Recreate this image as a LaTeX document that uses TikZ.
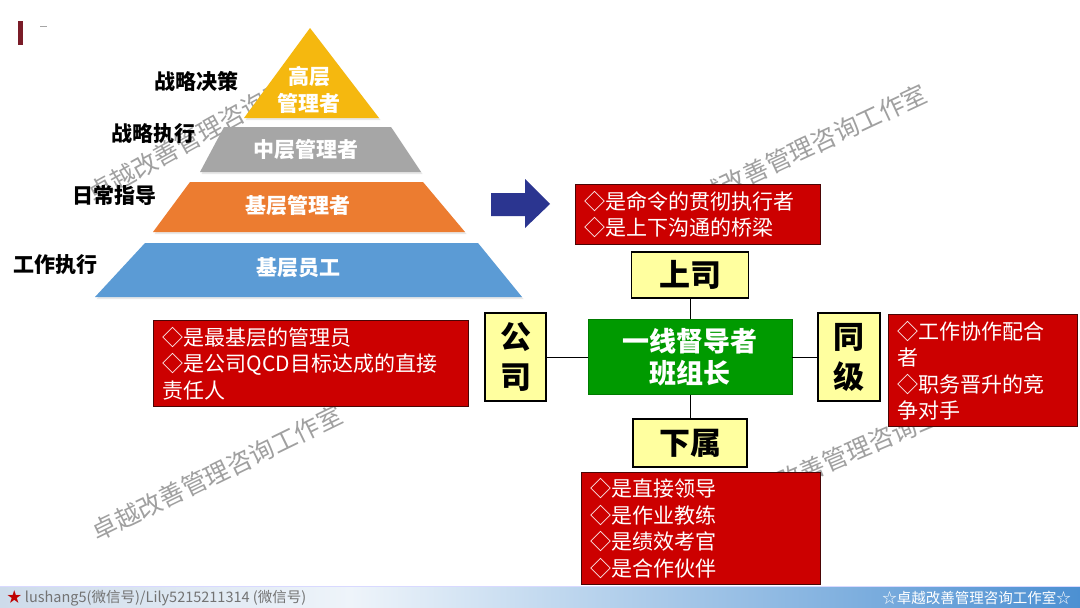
\documentclass[tikz,border=0pt]{standalone}
\usepackage{fontspec}
\setmainfont{Noto Sans CJK SC}
\usetikzlibrary{shadows}
\definecolor{pyryellow}{HTML}{F5B80F}
\definecolor{pyrgray}{HTML}{A6A6A6}
\definecolor{pyrorange}{HTML}{EC7C30}
\definecolor{pyrblue}{HTML}{5B9BD5}
\definecolor{navy}{HTML}{2B3590}
\definecolor{boxred}{HTML}{CC0000}
\definecolor{redborder}{HTML}{4A0505}
\definecolor{boxyellow}{HTML}{FFFF9F}
\definecolor{boxgreen}{HTML}{009A00}
\definecolor{wmgray}{HTML}{A0A0A0}
\definecolor{barred}{HTML}{7A1C28}
\definecolor{footA}{RGB}{205,219,234}
\definecolor{footB}{RGB}{238,244,250}
\definecolor{footC}{RGB}{76,144,210}
\begin{document}
\begin{tikzpicture}[x=1pt,y=-1pt,
  layer/.style={draw=none, drop shadow={opacity=0.18, shadow xshift=1.5pt, shadow yshift=-2pt}},
  pyrtext/.style={text=white, font=\bfseries\fontsize{21}{27}\selectfont, align=center, inner sep=0pt},
  sidelabel/.style={text=black, font=\bfseries\fontsize{21}{24}\selectfont, inner sep=0pt},
  redbox/.style={draw=redborder, line width=1.3pt, fill=boxred, text=white,
    font=\fontsize{21}{26.5}\selectfont, align=left, inner xsep=9pt, inner ysep=0pt, anchor=north west},
  ybox/.style={draw=black, line width=1.2pt, fill=boxyellow, text=black,
    font=\bfseries\fontsize{31}{40}\selectfont, align=center, inner sep=0pt},
  gbox/.style={draw=boxgreen!80!black, line width=0.6pt, fill=boxgreen, text=white,
    font=\bfseries\fontsize{27}{32}\selectfont, align=center, inner sep=0pt},
  wm/.style={font=\fontsize{25}{30}\selectfont, inner sep=0pt, text=wmgray},
  link/.style={draw=black, line width=1pt}
]
\useasboundingbox (0,0) rectangle (1080,608);
\fill[white] (0,0) rectangle (1080,608);

% top-left mark
\fill[barred] (18,21) rectangle (23,45);
\draw[gray!70, line width=1pt] (40,26) -- (47,26);

% watermarks
\foreach \cx/\cy/\ang [count=\i] in {210/129/29, 801/150/25, 217/473/26, 858/449/23}{
  \node[wm, rotate=\ang] (wmtext\i) at (\cx,\cy) {卓越改善管理咨询工作室};
}

% pyramid
\path[layer, fill=pyryellow] (310,28) -- (379,118) -- (244,118) -- cycle;
\path[layer, fill=pyrgray] (224,127) -- (391,127) -- (421,172) -- (200,172) -- cycle;
\path[layer, fill=pyrorange] (190,182) -- (423,182) -- (465,232) -- (153,232) -- cycle;
\path[layer, fill=pyrblue] (145,243) -- (478,243) -- (522,297) -- (95,297) -- cycle;

\node[pyrtext] (top) at (309,90) {高层\\[0pt]管理者};
\node[pyrtext] (mid) at (306,150) {中层管理者};
\node[pyrtext] (base) at (298,206) {基层管理者};
\node[pyrtext] (staff) at (298,268) {基层员工};

% side labels
\node[sidelabel] (l1) at (196,81) {战略决策};
\node[sidelabel] (l2) at (153,134) {战略执行};
\node[sidelabel] (l3) at (114,196) {日常指导};
\node[sidelabel] (l4) at (55,265) {工作执行};

% big arrow
\fill[navy] (491,193) -- (525,193) -- (525,179) -- (550,204) -- (525,228) -- (525,216) -- (491,216) -- cycle;

% red boxes
\node[redbox, text width=227pt, minimum height=60pt] (rtop) at (575,184)
  {◇是命令的贯彻执行者\\◇是上下沟通的桥梁};
\node[redbox, text width=297pt, minimum height=86pt] (rleft) at (153,320)
  {◇是最基层的管理员\\◇是公司QCD目标达成的直接\\责任人};
\node[redbox, text width=171pt, minimum height=112pt] (rright) at (888,314)
  {◇工作协作配合\\者\\◇职务晋升的竞\\争对手};
\node[redbox, text width=221pt, minimum height=112pt] (rbottom) at (581,472)
  {◇是直接领导\\◇是作业教练\\◇是绩效考官\\◇是合作伙伴};

% center diagram
\node[gbox, minimum width=204pt, minimum height=75pt] (center) at (690,357) {一线督导者\\班组长};
\node[ybox, minimum width=117pt, minimum height=46pt] (boss) at (690,275) {上司};
\node[ybox, minimum width=114pt, minimum height=48pt] (sub) at (690,443) {下属};
\node[ybox, minimum width=61pt, minimum height=88pt] (company) at (515.5,357) {公\\司};
\node[ybox, minimum width=62pt, minimum height=88pt] (peer) at (849,357) {同\\级};

\draw[link] (boss) -- (center);
\draw[link] (center) -- (sub);
\draw[link] (company) -- (center);
\draw[link] (center) -- (peer);

% footer
\shade[left color=footA, right color=footB] (0,586) rectangle (351,608);
\shade[left color=footB, right color=footC] (350,586) rectangle (1080,608);
\draw[white!85!blue, line width=0.6pt] (0,586) -- (1080,586);
\node[anchor=west, inner sep=0pt, font=\fontsize{14.5}{16}\selectfont, text=black!55] (footl) at (7,598)
  {\textcolor{red!75!black}{★} lushang5(微信号)/Lily5215211314 (微信号)};
\node[anchor=east, inner sep=0pt, font=\fontsize{14.5}{16}\selectfont, text=white] (footr) at (1071,598)
  {☆卓越改善管理咨询工作室☆};
\end{tikzpicture}
\end{document}
